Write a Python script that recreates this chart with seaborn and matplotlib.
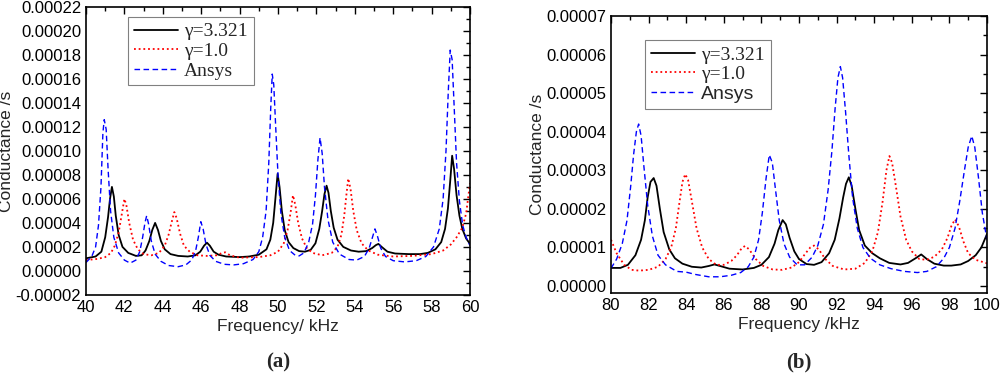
import matplotlib
matplotlib.use("Agg")
import matplotlib.pyplot as plt
import seaborn as sns
import numpy as np
from matplotlib.ticker import MultipleLocator, FuncFormatter

# ---- panel (a): 40-60 kHz, conductance in units of 1e-5 S ----
a_fit_x = [40.0, 40.5, 40.8, 41.0, 41.15, 41.25, 41.35, 41.45, 41.55, 41.7, 41.9, 42.2, 42.6, 42.9,
           43.1, 43.3, 43.45, 43.6, 43.75, 43.9, 44.1, 44.4, 44.8, 45.3, 45.7, 45.95, 46.15, 46.3,
           46.45, 46.65, 46.9, 47.3, 48.0, 48.5, 49.0, 49.4, 49.6, 49.75, 49.88, 49.98, 50.08, 50.2,
           50.35, 50.55, 50.8, 51.1, 51.4, 51.7, 51.95, 52.15, 52.3, 52.42, 52.53, 52.63, 52.75,
           52.9, 53.1, 53.4, 53.8, 54.2, 54.6, 54.9, 55.1, 55.23, 55.4, 55.7, 56.1, 56.8, 57.4,
           57.8, 58.2, 58.5, 58.7, 58.85, 58.97, 59.07, 59.17, 59.3, 59.45, 59.6, 59.8, 60.0]
a_fit_y = [1.05, 1.2, 1.6, 2.8, 4.5, 6.0, 7.0, 6.2, 4.6, 3.0, 2.0, 1.5, 1.25, 1.3,
           1.7, 2.5, 3.4, 4.0, 3.4, 2.5, 1.8, 1.4, 1.25, 1.2, 1.3, 1.6, 2.1, 2.35,
           2.1, 1.6, 1.35, 1.2, 1.15, 1.2, 1.35, 1.8, 2.6, 4.0, 6.3, 8.1, 7.0, 5.0,
           3.4, 2.4, 1.9, 1.65, 1.6, 1.75, 2.3, 3.5, 5.0, 6.4, 7.1, 6.5, 5.0,
           3.6, 2.6, 2.0, 1.7, 1.6, 1.65, 1.9, 2.15, 2.25, 2.0, 1.6, 1.45, 1.4, 1.4,
           1.5, 1.8, 2.4, 3.5, 5.2, 7.5, 9.6, 8.5, 6.3, 4.6, 3.5, 2.7, 2.25]

a_one_x = [40.0, 40.6, 41.0, 41.3, 41.5, 41.7, 41.85, 42.0, 42.1, 42.25, 42.45, 42.7, 43.0, 43.4,
           43.8, 44.1, 44.3, 44.45, 44.6, 44.72, 44.9, 45.1, 45.4, 45.8, 46.3, 46.8, 47.1, 47.25,
           47.5, 48.0, 49.0, 49.6, 50.0, 50.3, 50.5, 50.65, 50.78, 50.9, 51.05, 51.25, 51.5, 51.8,
           52.3, 52.8, 53.1, 53.3, 53.45, 53.56, 53.66, 53.78, 53.92, 54.1, 54.35, 54.7, 55.2,
           56.0, 57.0, 58.0, 58.6, 59.0, 59.3, 59.6, 59.8, 60.0]
a_one_y = [0.9, 1.0, 1.15, 1.5, 2.1, 3.2, 4.6, 6.0, 5.5, 4.0, 2.6, 1.8, 1.4, 1.3,
           1.5, 2.1, 3.0, 4.0, 4.9, 4.4, 3.1, 2.1, 1.6, 1.3, 1.25, 1.3, 1.5, 1.55,
           1.3, 1.1, 1.15, 1.3, 1.6, 2.3, 3.4, 4.8, 6.3, 5.5, 4.0, 2.7, 1.9, 1.5,
           1.3, 1.5, 2.0, 3.0, 4.6, 6.3, 7.7, 6.8, 5.0, 3.4, 2.3, 1.7, 1.35,
           1.2, 1.25, 1.4, 1.7, 2.2, 2.8, 3.6, 4.8, 7.3]

a_ansys_x = [40.0, 40.3, 40.5, 40.65, 40.78, 40.88, 40.95, 41.05, 41.15, 41.28, 41.45, 41.7, 42.0,
             42.3, 42.6, 42.8, 42.95, 43.07, 43.16, 43.26, 43.4, 43.6, 43.9, 44.3, 44.8, 45.2,
             45.5, 45.7, 45.85, 45.98, 46.1, 46.25, 46.45, 46.75, 47.2, 47.7, 48.2, 48.7, 49.0,
             49.2, 49.38, 49.52, 49.62, 49.7, 49.78, 49.88, 50.0, 50.15, 50.35, 50.6, 50.9, 51.1,
             51.35, 51.6, 51.8, 51.95, 52.08, 52.19, 52.3, 52.42, 52.6, 52.85, 53.2, 53.7, 54.1,
             54.5, 54.75, 54.92, 55.05, 55.18, 55.35, 55.6, 56.0, 56.6, 57.2, 57.7, 58.1, 58.4,
             58.6, 58.75, 58.87, 58.97, 59.07, 59.18, 59.3, 59.45, 59.62, 59.8, 60.0]
a_ansys_y = [0.7, 1.2, 2.0, 3.8, 7.0, 11.5, 12.6, 11.8, 8.5, 5.0, 2.8, 1.5, 0.9,
             0.65, 0.9, 1.6, 2.8, 4.0, 4.6, 3.9, 2.5, 1.4, 0.8, 0.45, 0.35, 0.5,
             0.9, 1.6, 2.8, 4.1, 3.5, 2.2, 1.3, 0.8, 0.55, 0.5, 0.6, 0.95, 1.6,
             2.8, 5.0, 9.0, 13.5, 16.4, 15.5, 12.0, 8.0, 4.8, 2.8, 1.7, 1.3, 1.25,
             1.5, 2.4, 3.9, 6.3, 9.3, 11.1, 9.8, 7.0, 4.3, 2.4, 1.4, 0.95, 0.9,
             1.2, 1.9, 2.8, 3.5, 2.9, 1.9, 1.2, 0.85, 0.75, 0.85, 1.2, 2.0, 3.5,
             6.0, 10.0, 15.0, 18.4, 17.6, 13.5, 9.0, 5.8, 3.8, 2.8, 2.1]

# ---- panel (b): 80-100 kHz ----
b_fit_x = [80.0, 80.5, 80.9, 81.3, 81.6, 81.8, 81.95, 82.1, 82.27, 82.42, 82.6, 82.8, 83.1, 83.4,
           83.8, 84.3, 84.8, 85.2, 85.5, 85.8, 86.3, 87.0, 87.6, 88.0, 88.4, 88.7, 88.9, 89.13,
           89.3, 89.5, 89.75, 90.0, 90.4, 90.8, 91.2, 91.6, 91.9, 92.15, 92.35, 92.5, 92.65, 92.8,
           93.0, 93.2, 93.5, 93.9, 94.3, 94.8, 95.4, 95.8, 96.2, 96.5, 96.8, 97.2, 97.7, 98.1,
           98.6, 99.0, 99.4, 99.7, 100.0]
b_fit_y = [0.47, 0.47, 0.55, 0.8, 1.2, 1.7, 2.3, 2.7, 2.8, 2.6, 2.0, 1.4, 0.95, 0.72,
           0.58, 0.5, 0.48, 0.52, 0.56, 0.52, 0.45, 0.43, 0.47, 0.55, 0.75, 1.1, 1.45, 1.71,
           1.6, 1.25, 0.9, 0.7, 0.57, 0.55, 0.62, 0.85, 1.2, 1.75, 2.3, 2.65, 2.82, 2.6,
           2.0, 1.45, 1.05, 0.85, 0.72, 0.6, 0.56, 0.6, 0.72, 0.82, 0.7, 0.58, 0.53, 0.53,
           0.56, 0.65, 0.8, 1.0, 1.35]

b_one_x = [80.0, 80.3, 80.7, 81.1, 81.5, 82.0, 82.5, 82.9, 83.2, 83.45, 83.65, 83.8, 83.95, 84.1,
           84.3, 84.55, 84.85, 85.2, 85.6, 86.0, 86.4, 86.7, 86.95, 87.13, 87.35, 87.7, 88.1,
           88.6, 89.1, 89.6, 90.0, 90.35, 90.6, 90.8, 91.05, 91.4, 91.8, 92.4, 93.0, 93.5, 93.9,
           94.2, 94.45, 94.65, 94.81, 94.95, 95.15, 95.4, 95.7, 96.0, 96.4, 96.8, 97.2, 97.6,
           97.9, 98.1, 98.3, 98.5, 98.75, 99.0, 99.4, 100.0]
b_one_y = [1.2, 0.85, 0.55, 0.42, 0.4, 0.42, 0.5, 0.7, 1.0, 1.5, 2.2, 2.7, 2.9, 2.75,
           2.2, 1.5, 1.0, 0.7, 0.55, 0.55, 0.65, 0.8, 0.98, 1.04, 0.95, 0.7, 0.52,
           0.43, 0.42, 0.48, 0.62, 0.85, 1.0, 1.05, 0.95, 0.7, 0.52, 0.43, 0.45, 0.6, 0.9,
           1.4, 2.2, 3.0, 3.37, 3.2, 2.6, 1.8, 1.2, 0.9, 0.7, 0.68, 0.76, 0.95,
           1.25, 1.55, 1.73, 1.55, 1.15, 0.85, 0.68, 0.59]

b_ansys_x = [80.0, 80.3, 80.6, 80.85, 81.05, 81.2, 81.35, 81.47, 81.6, 81.75, 81.95, 82.2, 82.5,
             82.9, 83.5, 84.0, 84.5, 85.2, 85.8, 86.4, 86.9, 87.3, 87.6, 87.85, 88.05, 88.25,
             88.42, 88.58, 88.75, 88.95, 89.2, 89.5, 89.9, 90.3, 90.7, 91.0, 91.3, 91.55, 91.75,
             91.92, 92.07, 92.2, 92.32, 92.48, 92.65, 92.85, 93.1, 93.4, 93.8, 94.3, 94.9, 95.6,
             96.3, 96.8, 97.3, 97.7, 98.0, 98.3, 98.55, 98.8, 99.0, 99.19, 99.35, 99.55, 99.75,
             100.0]
b_ansys_y = [0.46, 0.7, 1.1, 1.7, 2.6, 3.4, 4.0, 4.2, 3.9, 3.1, 2.1, 1.3, 0.8,
             0.55, 0.38, 0.36, 0.3, 0.24, 0.24, 0.28, 0.35, 0.5, 0.75, 1.2, 1.9, 2.8,
             3.4, 3.2, 2.5, 1.7, 1.1, 0.75, 0.55, 0.55, 0.75, 1.05, 1.6, 2.5, 3.5,
             4.6, 5.4, 5.69, 5.4, 4.5, 3.4, 2.3, 1.5, 1.0, 0.72, 0.55, 0.45, 0.38,
             0.35, 0.38, 0.5, 0.72, 1.0, 1.5, 2.2, 3.0, 3.6, 3.89, 3.6, 2.8, 1.9,
             1.2]

labels = ["\u03b3=3.321", "\u03b3=1.0", "Ansys"]
SCALE = 1e-5

sns.set_style("white")
plt.rcParams["font.family"] = ["Liberation Sans", "DejaVu Sans"]
plt.rcParams["axes.linewidth"] = 1.2

fig = plt.figure(figsize=(10, 3.82), dpi=100)
ax_a = fig.add_axes([0.086, 0.228, 0.384, 0.754])
ax_b = fig.add_axes([0.611, 0.233, 0.376, 0.725])


def fmt(v, pos):
    if abs(v) < 1e-12:
        v = 0.0
    return "%.5f" % v


def draw_panel(ax, fit, one, ansys):
    sns.lineplot(x=fit[0], y=np.array(fit[1]) * SCALE, ax=ax, color="black",
                 linewidth=1.3, label=labels[0])
    sns.lineplot(x=one[0], y=np.array(one[1]) * SCALE, ax=ax, color="red",
                 linewidth=1.3, linestyle=(0, (1, 1.6)), label=labels[1])
    sns.lineplot(x=ansys[0], y=np.array(ansys[1]) * SCALE, ax=ax, color="blue",
                 linewidth=1.0, linestyle=(0, (4, 2.5)), label=labels[2])
    ax.yaxis.set_major_formatter(FuncFormatter(fmt))
    ax.tick_params(which="both", direction="in", top=True, right=True,
                   labelsize=12, colors="black", width=1.0)
    ax.tick_params(which="major", length=5)
    ax.tick_params(which="minor", length=3)
    for s in ax.spines.values():
        s.set_color("black")
    ax.set_ylabel("Conductance /s", fontsize=12.5, labelpad=1)


draw_panel(ax_a, (a_fit_x, a_fit_y), (a_one_x, a_one_y), (a_ansys_x, a_ansys_y))
ax_a.set_xlim(40, 60)
ax_a.set_ylim(-0.00002, 0.00022)
ax_a.xaxis.set_major_locator(MultipleLocator(2))
ax_a.xaxis.set_minor_locator(MultipleLocator(1))
ax_a.yaxis.set_major_locator(MultipleLocator(0.00002))
ax_a.yaxis.set_minor_locator(MultipleLocator(0.00001))
ax_a.set_xlabel("Frequency/ kHz", fontsize=12.5, labelpad=3)

draw_panel(ax_b, (b_fit_x, b_fit_y), (b_one_x, b_one_y), (b_ansys_x, b_ansys_y))
ax_b.set_xlim(80, 100)
ax_b.set_ylim(-0.0000018, 0.00007)
ax_b.xaxis.set_major_locator(MultipleLocator(2))
ax_b.xaxis.set_minor_locator(MultipleLocator(1))
ax_b.yaxis.set_major_locator(MultipleLocator(0.00001))
ax_b.yaxis.set_minor_locator(MultipleLocator(0.000005))
ax_b.set_xlabel("Frequency /kHz", fontsize=12.5, labelpad=3)

serif = ["Liberation Serif", "DejaVu Serif"]
leg_a = ax_a.legend(loc="upper left", bbox_to_anchor=(0.109, 0.965), borderaxespad=0,
                    prop={"family": serif, "size": 14}, handlelength=2.3,
                    labelspacing=0.1, borderpad=0.3, handletextpad=0.3, fancybox=False,
                    edgecolor="gray", framealpha=1)
leg_a.get_frame().set_linewidth(0.8)

leg_b = ax_b.legend(loc="upper left", bbox_to_anchor=(0.090, 0.913), borderaxespad=0,
                    prop={"family": serif, "size": 14}, handlelength=2.3,
                    labelspacing=0.1, borderpad=0.3, handletextpad=0.3, fancybox=False,
                    edgecolor="gray", framealpha=1)
leg_b.get_frame().set_linewidth(0.8)
leg_b.get_texts()[2].set_fontfamily(["Liberation Sans", "DejaVu Sans"])

fig.text(0.278, 0.05, "(a)", ha="center", va="center", fontsize=15, fontweight="bold",
         family=serif)
fig.text(0.799, 0.05, "(b)", ha="center", va="center", fontsize=15, fontweight="bold",
         family=serif)

fig.savefig("out.png", dpi=100)
